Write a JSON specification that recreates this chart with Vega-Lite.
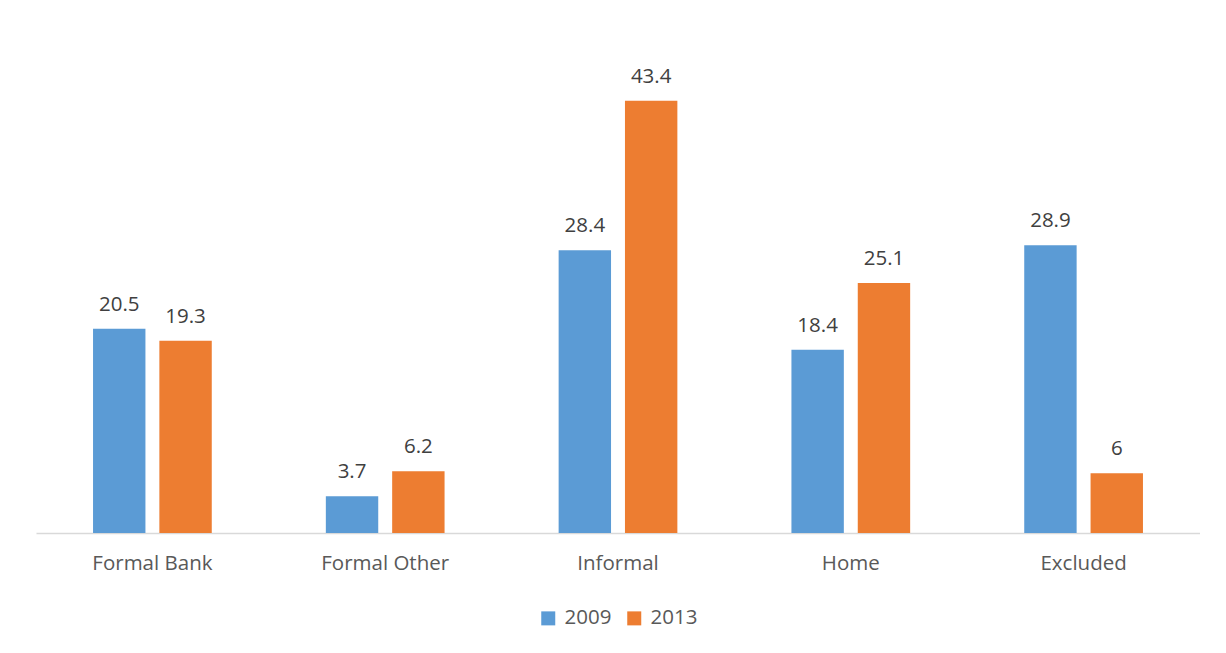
{
  "$schema": "https://vega.github.io/schema/vega-lite/v6.json",
  "width": 1164,
  "height": 498,
  "padding": {"left": 36, "top": 35, "right": 0, "bottom": 0},
  "background": "white",
  "config": {
    "view": {"stroke": null},
    "font": "Open Sans",
    "legend": {"layout": {"bottom": {"anchor": "middle"}}}
  },
  "data": {
    "values": [
      {"category": "Formal Bank", "year": "2009", "value": 20.5},
      {"category": "Formal Bank", "year": "2013", "value": 19.3},
      {"category": "Formal Other", "year": "2009", "value": 3.7},
      {"category": "Formal Other", "year": "2013", "value": 6.2},
      {"category": "Informal", "year": "2009", "value": 28.4},
      {"category": "Informal", "year": "2013", "value": 43.4},
      {"category": "Home", "year": "2009", "value": 18.4},
      {"category": "Home", "year": "2013", "value": 25.1},
      {"category": "Excluded", "year": "2009", "value": 28.9},
      {"category": "Excluded", "year": "2013", "value": 6}
    ]
  },
  "encoding": {
    "x": {
      "field": "category",
      "type": "nominal",
      "sort": null,
      "scale": {"paddingInner": 0.49, "paddingOuter": 0.245},
      "axis": {
        "title": null,
        "labelAngle": 0,
        "labelFontSize": 20.5,
        "labelColor": "#595959",
        "labelPadding": 20,
        "ticks": false,
        "domainColor": "#d9d9d9",
        "domainWidth": 1.5,
        "grid": false
      }
    },
    "xOffset": {
      "field": "year",
      "type": "nominal",
      "scale": {"paddingInner": 0.21, "paddingOuter": 0}
    },
    "y": {
      "field": "value",
      "type": "quantitative",
      "scale": {"domain": [0, 50]},
      "axis": null
    }
  },
  "layer": [
    {
      "mark": {"type": "bar"},
      "encoding": {
        "color": {
          "field": "year",
          "type": "nominal",
          "scale": {"domain": ["2009", "2013"], "range": ["#5B9BD5", "#ED7D31"]},
          "legend": {
            "title": null,
            "orient": "bottom",
            "direction": "horizontal",
            "symbolType": "square",
            "symbolSize": 196,
            "symbolStrokeWidth": 0,
            "labelFontSize": 20.5,
            "labelColor": "#595959",
            "columnPadding": 12,
            "labelOffset": 6,
            "offset": 34
          }
        }
      }
    },
    {
      "mark": {"type": "text", "baseline": "alphabetic", "dy": -18, "fontSize": 20.5, "color": "#404040"},
      "encoding": {
        "text": {"field": "value", "type": "quantitative"}
      }
    }
  ]
}
